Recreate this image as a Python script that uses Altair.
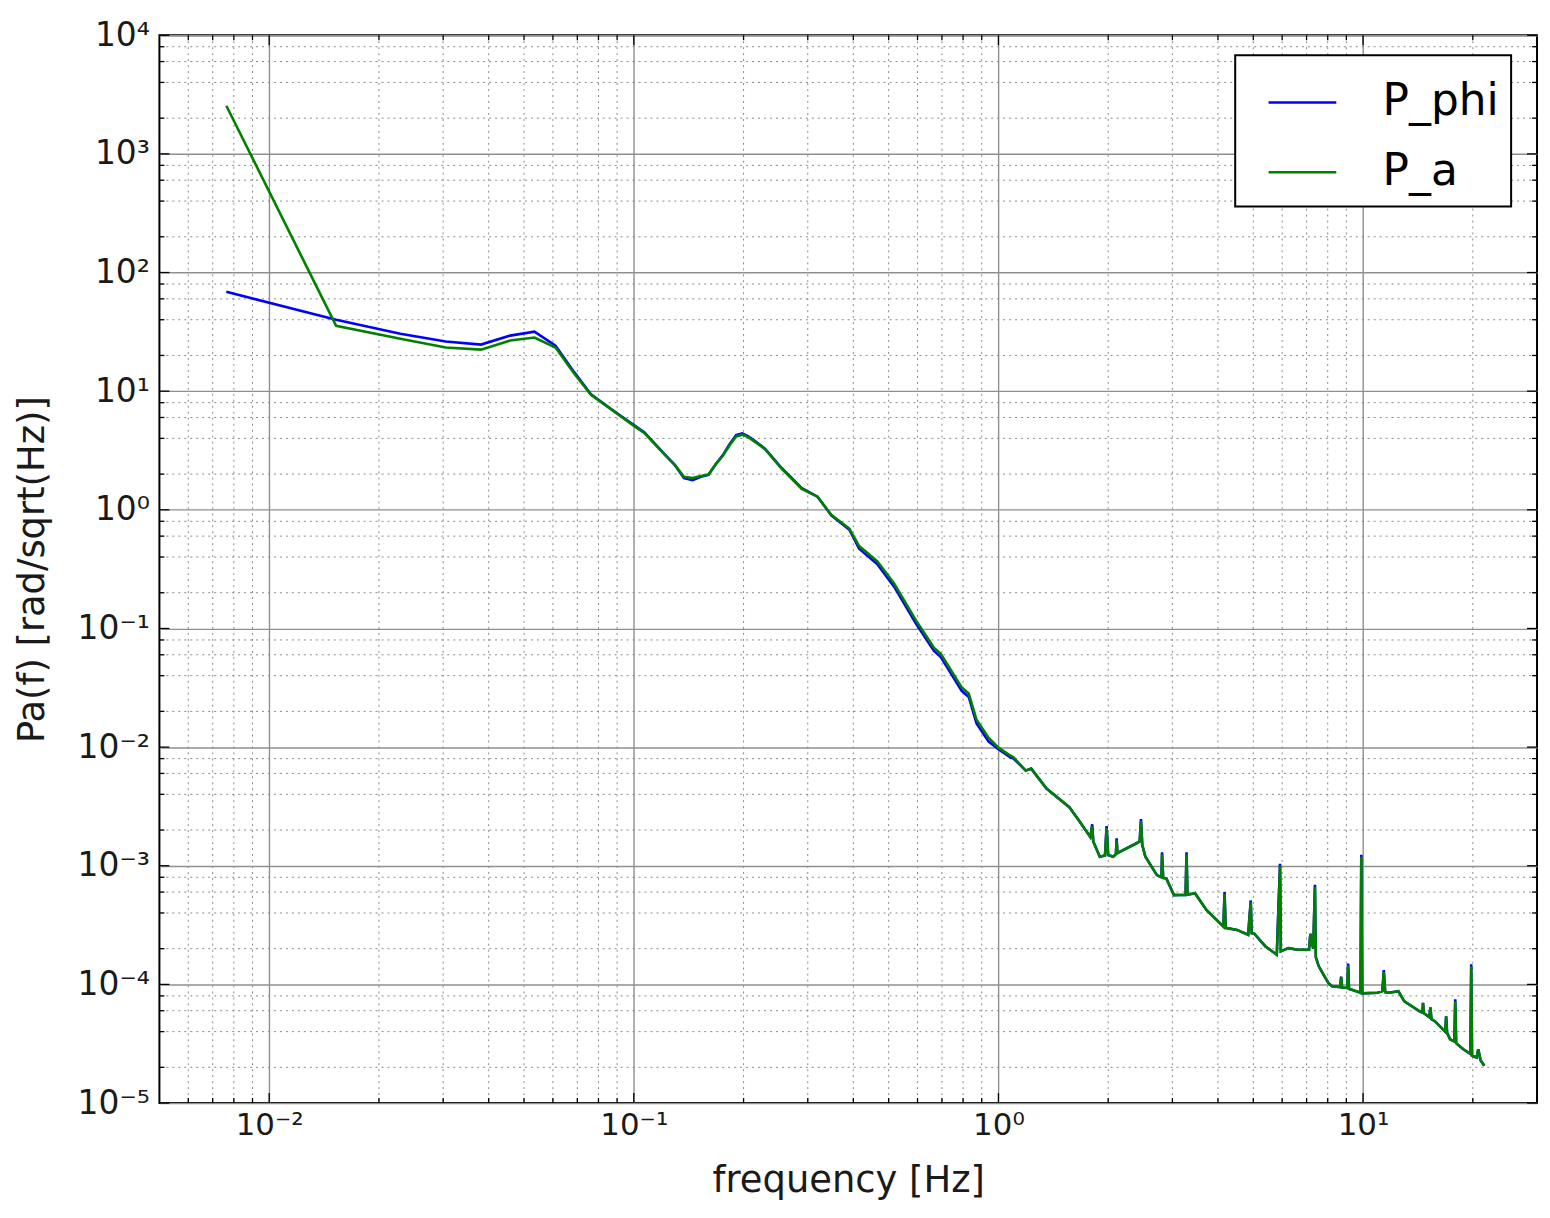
import altair as alt
import pandas as pd

# ---------------- data ----------------
freq_low = [0.00763, 0.01526, 0.0229, 0.0305, 0.0381, 0.0458, 0.0534, 0.0610, 0.0687, 0.0763,
            0.0839, 0.0916, 0.0992, 0.1068, 0.1145, 0.1221, 0.1297, 0.1373, 0.1450, 0.1526,
            0.1602, 0.1679, 0.1755, 0.1831, 0.1908, 0.1984, 0.2060, 0.2136, 0.2213, 0.2290]
phi_low = [68.7, 40.0, 30.5, 26.2, 24.7, 29.4, 31.7, 24.2, 14.4, 9.4,
           7.6, 6.27, 5.27, 4.51, 3.58, 2.89, 2.38, 1.85, 1.78, 1.90,
           1.97, 2.43, 2.89, 3.58, 4.26, 4.40, 4.15, 3.85, 3.55, 3.28]
a_low = [2547, 35.6, 27.7, 23.3, 22.4, 26.7, 28.3, 23.3, 14.0, 9.3,
         7.55, 6.2, 5.2, 4.45, 3.55, 2.88, 2.38, 1.90, 1.85, 1.93,
         1.98, 2.43, 2.85, 3.5, 4.15, 4.30, 4.1, 3.79, 3.51, 3.25]

freq_mid = [0.2547, 0.2888, 0.319, 0.348, 0.390, 0.415, 0.465, 0.518, 0.594, 0.665,
            0.695, 0.793, 0.829, 0.871, 0.939, 1.0]
phi_mid = [2.24, 1.52, 1.29, 0.90, 0.680, 0.470, 0.350, 0.224, 0.110, 0.065,
           0.0575, 0.0298, 0.0265, 0.0158, 0.0112, 0.0096]
a_mid = [2.21, 1.50, 1.29, 0.91, 0.693, 0.495, 0.37, 0.238, 0.117, 0.069,
         0.061, 0.0318, 0.0283, 0.0170, 0.0120, 0.0099]

freq_high = [1.078, 1.10, 1.188, 1.23, 1.355, 1.565, 1.663, 1.786, 1.808, 1.82,
             1.897, 1.96, 1.98, 2.00, 2.064, 2.10, 2.11, 2.12, 2.19, 2.385,
             2.44, 2.46, 2.48, 2.53, 2.72, 2.80, 2.81, 2.83, 2.887, 3.03,
             3.26, 3.28, 3.30, 3.46, 3.72, 4.14, 4.17, 4.20, 4.51, 4.84,
             4.92, 4.95, 5.02, 5.40, 5.80, 5.92, 5.95, 6.24, 6.62, 7.11,
             7.17, 7.30, 7.38, 7.42, 7.56, 8.03, 8.22, 8.65, 8.71, 8.76,
             9.05, 9.10, 9.15, 9.84, 9.89, 9.94, 10.97, 11.3, 11.4, 11.5,
             11.8, 12.5, 12.98, 14.3, 14.55, 14.6, 14.7, 15.2, 15.3, 15.4,
             15.74, 16.8, 16.9, 17.0, 17.33, 17.8, 17.9, 18.0, 18.84, 19.7,
             19.8, 19.9, 20.5, 20.7, 21.0, 21.5]
a_high = [0.00847, 0.0082, 0.00634, 0.00659, 0.00448, 0.00312, 0.00241, 0.00175, 0.00215, 0.0016,
          0.00119, 0.00122, 0.00208, 0.00123, 0.00119, 0.00125, 0.00164, 0.00128, 0.00135, 0.00154,
          0.0016, 0.00238, 0.0015, 0.00119, 0.000834, 0.0008, 0.00125, 0.00079, 0.000782, 0.000566,
          0.00057, 0.00125, 0.00057, 0.000586, 0.000424, 0.000307, 0.000578, 0.0003, 0.000288, 0.000262,
          0.000492, 0.00027, 0.00027, 0.000209, 0.000178, 0.00100, 0.00019, 0.000202, 0.000196, 0.000196,
          0.000267, 0.0002, 0.000665, 0.00017, 0.000142, 0.000103, 9.65e-5, 9.5e-5, 0.000116, 9.4e-5,
          9.34e-5, 0.000145, 9.2e-5, 8.5e-5, 0.00119, 8.4e-5, 8.5e-5, 8.8e-5, 0.000127, 8.6e-5,
          8.5e-5, 8.75e-5, 7.2e-5, 5.94e-5, 5.8e-5, 7.0e-5, 5.7e-5, 5.3e-5, 6.4e-5, 5.1e-5,
          4.9e-5, 4.0e-5, 5.37e-5, 3.9e-5, 3.44e-5, 3.3e-5, 7.2e-5, 3.2e-5, 2.84e-5, 2.6e-5,
          0.000142, 2.5e-5, 2.42e-5, 2.84e-5, 2.3e-5, 2.06e-5]
phi_high = [0.0082, 0.0080, 0.00634, 0.00659, 0.00448, 0.00312, 0.00241, 0.00175, 0.00224, 0.0016,
            0.00119, 0.00122, 0.00216, 0.00123, 0.00119, 0.00125, 0.0017, 0.00128, 0.00135, 0.00154,
            0.0016, 0.00248, 0.0015, 0.00119, 0.000834, 0.0008, 0.0013, 0.00079, 0.000782, 0.000566,
            0.00057, 0.0013, 0.00057, 0.000586, 0.000424, 0.000307, 0.0006, 0.0003, 0.000288, 0.000262,
            0.00051, 0.00027, 0.00027, 0.000209, 0.000178, 0.00104, 0.00019, 0.000202, 0.000196, 0.000196,
            0.000267, 0.0002, 0.00069, 0.00017, 0.000142, 0.000103, 9.65e-5, 9.5e-5, 0.000116, 9.4e-5,
            9.34e-5, 0.00015, 9.2e-5, 8.5e-5, 0.00124, 8.4e-5, 8.5e-5, 8.8e-5, 0.000132, 8.6e-5,
            8.5e-5, 8.75e-5, 7.2e-5, 5.94e-5, 5.8e-5, 7.0e-5, 5.7e-5, 5.3e-5, 6.4e-5, 5.1e-5,
            4.9e-5, 4.0e-5, 5.37e-5, 3.9e-5, 3.44e-5, 3.3e-5, 7.5e-5, 3.2e-5, 2.84e-5, 2.6e-5,
            0.000148, 2.5e-5, 2.42e-5, 2.84e-5, 2.3e-5, 2.06e-5]

series_names = ["P_phi", "P_a"]
series_colors = ["#0000ff", "#008000"]

x_major = [0.01, 0.1, 1, 10]
y_major = [1e-5, 1e-4, 1e-3, 1e-2, 1e-1, 1, 10, 100, 1000, 10000]
x_minor = [0.006, 0.007, 0.008, 0.009,
           0.02, 0.03, 0.04, 0.05, 0.06, 0.07, 0.08, 0.09,
           0.2, 0.3, 0.4, 0.5, 0.6, 0.7, 0.8, 0.9,
           2, 3, 4, 5, 6, 7, 8, 9, 20]
y_minor = [2e-5, 4e-5, 6e-5, 8e-5, 2e-4, 4e-4, 6e-4, 8e-4,
           2e-3, 4e-3, 6e-3, 8e-3, 2e-2, 4e-2, 6e-2, 8e-2,
           0.2, 0.4, 0.6, 0.8, 2, 4, 6, 8, 20, 40, 60, 80,
           200, 400, 600, 800, 2000, 4000, 6000, 8000]

x_domain = [0.005, 30]
y_domain = [1e-5, 1e4]

# ---------------- build tables ----------------
assert len(freq_low) == len(phi_low) == len(a_low)
assert len(freq_mid) == len(phi_mid) == len(a_mid)
assert len(freq_high) == len(phi_high) == len(a_high)

freqs = freq_low + freq_mid + freq_high
df = pd.concat([
    pd.DataFrame({"f": freqs, "v": phi_low + phi_mid + phi_high, "series": "P_phi"}),
    pd.DataFrame({"f": freqs, "v": a_low + a_mid + a_high, "series": "P_a"}),
], ignore_index=True)

W, H = 1383, 1072
FONT = "DejaVu Sans"


def sup_expr():
    e = "(''+round(log(datum.value)/LN10))"
    m = {'-': '⁻', '0': '⁰', '1': '¹', '2': '²', '3': '³', '4': '⁴',
         '5': '⁵', '6': '⁶', '7': '⁷', '8': '⁸', '9': '⁹'}
    expr = e
    for k, v in m.items():
        expr = f"replace({expr}, '{k}', '{v}')"
    return "'10' + " + expr


xs = alt.Scale(type="log", domain=x_domain, nice=False)
ys = alt.Scale(type="log", domain=y_domain, nice=False)

x_axis = alt.Axis(values=x_major, labelExpr=sup_expr(), grid=True, gridColor="#8f8f8f",
                  gridWidth=1.4, domain=False, ticks=False, labelFont=FONT, labelFontSize=31,
                  labelColor="#1a1a1a", labelPadding=8, title="frequency [Hz]", titleFont=FONT,
                  titleFontSize=37, titleFontWeight="normal", titleColor="#1a1a1a",
                  titleX=W / 2, titleY=89, titleBaseline="alphabetic")
y_axis = alt.Axis(values=y_major, labelExpr=sup_expr(), grid=True, gridColor="#8f8f8f",
                  gridWidth=1.4, domain=False, ticks=False, labelFont=FONT, labelFontSize=33,
                  labelColor="#1a1a1a", labelPadding=10, title="Pa(f) [rad/sqrt(Hz)]",
                  titleFont=FONT, titleFontSize=37, titleFontWeight="normal",
                  titleColor="#1a1a1a", titleX=-116, titleY=H / 2, titleBaseline="alphabetic")

color_enc = alt.Color("series:N",
                      scale=alt.Scale(domain=series_names, range=series_colors),
                      legend=alt.Legend(title=None, orient="none", legendX=1080, legendY=20,
                                        padding=12, strokeColor="black", fillColor="white",
                                        symbolType="stroke", symbolSize=4624, symbolOffset=20,
                                        symbolStrokeWidth=2.5, labelFont=FONT,
                                        labelFontSize=44, labelColor="black", labelOffset=45,
                                        labelLimit=400, rowPadding=12))

minor_x = pd.DataFrame({"f": x_minor})
minor_y = pd.DataFrame({"v": y_minor})
major_x = pd.DataFrame({"f": x_major})
major_y = pd.DataFrame({"v": y_major})

grid_style = dict(color="#8a8a8a", strokeWidth=1, strokeDash=[2, 4])
gx = alt.Chart(minor_x).mark_rule(**grid_style).encode(x=alt.X("f:Q", scale=xs, axis=x_axis))
gy = alt.Chart(minor_y).mark_rule(**grid_style).encode(y=alt.Y("v:Q", scale=ys, axis=y_axis))

tick_style = dict(color="black", strokeWidth=1.3)


def xticks(data, length):
    bottom = alt.Chart(data).mark_rule(**tick_style).encode(
        x=alt.X("f:Q", scale=xs, axis=x_axis), y=alt.value(H), y2=alt.value(H - length))
    top = alt.Chart(data).mark_rule(**tick_style).encode(
        x=alt.X("f:Q", scale=xs, axis=x_axis), y=alt.value(0), y2=alt.value(length))
    return [bottom, top]


def yticks(data, length):
    left = alt.Chart(data).mark_rule(**tick_style).encode(
        y=alt.Y("v:Q", scale=ys, axis=y_axis), x=alt.value(0), x2=alt.value(length))
    right = alt.Chart(data).mark_rule(**tick_style).encode(
        y=alt.Y("v:Q", scale=ys, axis=y_axis), x=alt.value(W), x2=alt.value(W - length))
    return [left, right]


base = alt.Chart(df).mark_line(strokeWidth=2.6, clip=True).encode(
    x=alt.X("f:Q", scale=xs, axis=x_axis),
    y=alt.Y("v:Q", scale=ys, axis=y_axis),
    color=color_enc,
    order=alt.Order("f:Q"),
)
line_phi = base.transform_filter(alt.datum.series == "P_phi")
line_a = base.transform_filter(alt.datum.series == "P_a")

layers = [gx, gy] + xticks(minor_x, 5) + xticks(major_x, 10) + yticks(minor_y, 5) + \
    yticks(major_y, 10) + [line_phi, line_a]

chart = alt.layer(*layers).properties(
    width=W, height=H,
    autosize=alt.AutoSizeParams(type="none"),
    padding={"left": 152, "top": 25, "right": 5, "bottom": 98},
    background="white",
).configure_view(stroke="black", strokeWidth=2).configure_legend(strokeWidth=2)

chart.save("out.html", embed_options={"renderer": "svg", "actions": False})
